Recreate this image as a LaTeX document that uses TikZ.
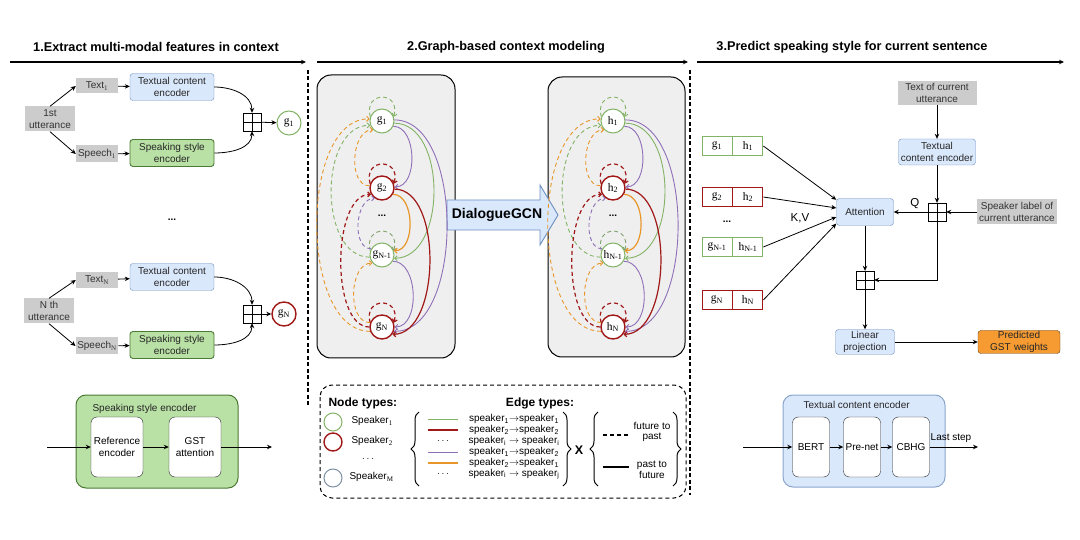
\documentclass[tikz,border=0pt]{standalone}
\usepackage{fontspec}
\setmainfont{Liberation Sans}
\newfontfamily\serf{Liberation Serif}
\usetikzlibrary{arrows.meta,positioning,decorations.pathreplacing,calc}
\definecolor{DGfillb}{HTML}{DAE8FC}
\definecolor{DGlineb}{HTML}{6C8EBF}
\definecolor{DGfillg}{HTML}{B9E0A5}
\definecolor{DGlineg}{HTML}{4A7A33}
\definecolor{DGgray}{HTML}{CCCCCC}
\definecolor{DGpanel}{HTML}{EFEFEF}
\definecolor{DGorange}{HTML}{F59B32}
\definecolor{SPgreen}{HTML}{82B366}
\definecolor{SPred}{HTML}{A01818}
\definecolor{SPpurple}{HTML}{8F6FB8}
\definecolor{SPorange}{HTML}{E8962A}
\definecolor{SPslate}{HTML}{7D8FA3}
\newcommand{\nlab}[2]{{\serf #1\textsubscript{#2}}}
\tikzset{
  every node/.style={font=\fontsize{10}{11.5}\selectfont},
  head/.style={font=\fontsize{12.7}{14}\selectfont\bfseries},
  gbox/.style={fill=DGgray,text=black!80,align=center,inner sep=1.5pt},
  tenc/.style={rounded corners=3pt,draw=DGlineb,fill=DGfillb,text=black!85,align=center,
               text width=82pt,minimum height=27pt,inner sep=1pt},
  senc/.style={tenc,draw=DGlineg,fill=DGfillg,line width=0.9pt},
  subblk/.style={rounded corners=6pt,draw=black!85,fill=white,align=center,
                 minimum width=52pt,minimum height=60pt,inner sep=1pt},
  plusbox/.style={draw,fill=white,minimum size=18pt,inner sep=0pt,
    path picture={\draw (path picture bounding box.north) -- (path picture bounding box.south)
                        (path picture bounding box.west) -- (path picture bounding box.east);}},
  spone/.style={circle,draw=SPgreen,fill=white,line width=1pt,minimum size=24pt,inner sep=0pt,
                font=\fontsize{11.5}{12}\selectfont},
  sptwo/.style={spone,draw=SPred,line width=1.4pt},
  keyg/.style={draw=SPgreen,fill=white,line width=0.9pt,minimum width=30pt,minimum height=19pt,inner sep=0pt,
               font=\fontsize{11.5}{12}\selectfont},
  keyr/.style={keyg,draw=SPred},
  fl/.style={-{Stealth[length=5pt,width=4.5pt]},line width=0.8pt},
  ge/.style={-{Straight Barb[length=2.5pt,width=5pt]},line width=0.9pt},
  gd/.style={ge,dash pattern=on 4pt off 3pt},
  sep/.style={line width=1.2pt,dash pattern=on 4pt off 2.5pt},
  panel/.style={rounded corners=14pt,draw=black,fill=DGpanel,line width=1pt},
  bold/.style={font=\fontsize{12}{13}\selectfont\bfseries},
  erow/.style={font=\fontsize{10}{10.5}\selectfont},
  brc/.style={decorate,decoration={brace,amplitude=8pt},line width=1pt}
}
\begin{document}
\begin{tikzpicture}[x=1pt,y=1pt]
\useasboundingbox (0,0) rectangle (1080,-540);

% headings
\node[head] (hd1) at (156,-47) {1.Extract multi-modal features in context};
\node[head] (hd2) at (506,-47) {2.Graph-based context modeling};
\node[head] (hd3) at (852,-47) {3.Predict speaking style for current sentence};
\coordinate (a1s) at (10,-62);  \coordinate (a1e) at (306,-62);
\coordinate (a2s) at (317,-62); \coordinate (a2e) at (688,-62);
\coordinate (a3s) at (697,-62); \coordinate (a3e) at (1064,-62);
\draw[fl,line width=1.2pt] (a1s) -- (a1e);
\draw[fl,line width=1.2pt] (a2s) -- (a2e);
\draw[fl,line width=1.2pt] (a3s) -- (a3e);
\coordinate (sl1) at (308,-70); \coordinate (sl2) at (308,-405);
\coordinate (sr1) at (690,-70); \coordinate (sr2) at (690,-495);
\draw[sep] (sl1) -- (sl2);
\draw[sep] (sr1) -- (sr2);

% 1. features of each utterance
\node[gbox,minimum width=50pt,minimum height=25pt] (utt1) at (50,-119) {1st\\utterance};
\node[gbox,minimum width=42pt,minimum height=15pt] (txt1) at (97,-86) {Text\textsubscript{\serf 1}};
\node[gbox,minimum width=42pt,minimum height=17pt] (sp1) at (97,-154) {Speech\textsubscript{\serf 1}};
\node[tenc] (tce1) at (172,-87) {Textual content\\encoder};
\node[senc] (sse1) at (172,-153) {Speaking style\\encoder};
\node[plusbox] (pl1) at (252,-122) {};
\node[spone] (gc1) at (289,-123) {\nlab{g}{1}};
\draw[fl] (utt1.north) -- (txt1.west);
\draw[fl] (utt1.south) -- (sp1.west);
\draw[fl] (txt1) -- (tce1);
\draw[fl] (sp1) -- (sse1);
\draw[fl] (tce1.east) to[out=0,in=90] (pl1.north);
\draw[fl] (sse1.east) to[out=0,in=-90] (pl1.south);
\draw[fl] (pl1) -- (gc1);

\node[font=\bfseries] (vdots) at (172,-220) {...};

\node[gbox,minimum width=50pt,minimum height=25pt] (uttN) at (49,-311) {N th\\utterance};
\node[gbox,minimum width=42pt,minimum height=16pt] (txtN) at (97,-280) {Text\textsubscript{\serf N}};
\node[gbox,minimum width=42pt,minimum height=17pt] (spN) at (97,-346) {Speech\textsubscript{\serf N}};
\node[tenc] (tceN) at (172,-277) {Textual content\\encoder};
\node[senc] (sseN) at (172,-345) {Speaking style\\encoder};
\node[plusbox] (plN) at (252,-314) {};
\node[sptwo] (gcN) at (284,-314) {\nlab{g}{N}};
\draw[fl] (uttN.north) -- (txtN.west);
\draw[fl] (uttN.south) -- (spN.west);
\draw[fl] (txtN) -- (tceN);
\draw[fl] (spN) -- (sseN);
\draw[fl] (tceN.east) to[out=0,in=90] (plN.north);
\draw[fl] (sseN.east) to[out=0,in=-90] (plN.south);
\draw[fl] (plN) -- (gcN);

% speaking style encoder detail
\draw[rounded corners=10pt,fill=DGfillg,draw=DGlineg,line width=1pt] (76,-395) rectangle (238,-488);
\node[anchor=west,text=black!85] (ssel) at (89,-409) {Speaking style encoder};
\node[subblk] (refenc) at (117,-447) {Reference\\encoder};
\node[subblk] (gstatt) at (195,-447) {GST\\attention};
\coordinate (ssin) at (47,-447);
\coordinate (ssout) at (272,-447);
\draw[fl] (ssin) -- (refenc);
\draw[fl] (refenc) -- (gstatt);
\draw[fl] (gstatt) -- (ssout);

% 2. graphs before and after DialogueGCN
\draw[panel] (317,-75) rectangle (455,-358);
\draw[panel] (548,-77) rectangle (685,-357);
\draw[fill=DGfillb,draw=DGlineb,line width=0.9pt] (447,-200) -- (540,-200) -- (540,-185) -- (558,-215)
  -- (540,-245) -- (540,-230) -- (447,-230) -- cycle;
\node[font=\fontsize{14}{16}\selectfont\bfseries] (gcn) at (497,-215) {DialogueGCN};

\foreach \p/\gx in {g/382,h/613} {
  \node[spone] (\p1) at (\gx,-121) {\nlab{\p}{1}};
  \node[sptwo] (\p2) at (\gx,-188) {\nlab{\p}{2}};
  \node[font=\bfseries] (\p D) at (\gx,-216) {...};
  \node[spone] (\p M) at (\gx,-255) {\nlab{\p}{N-1}};
  \node[sptwo] (\p N) at (\gx,-327) {\nlab{\p}{N}};
  % self loops
  \draw[gd,SPgreen] (\p1.160) .. controls +(-7,26) and +(7,26) .. (\p1.20);
  \draw[gd,SPred,line width=1.2pt] (\p2.160) .. controls +(-7,26) and +(7,26) .. (\p2.20);
  \draw[gd,SPgreen!70!gray] (\p M.160) .. controls +(-7,26) and +(7,26) .. (\p M.20);
  \draw[gd,SPred,line width=1.2pt] (\p N.160) .. controls +(-7,26) and +(7,26) .. (\p N.20);
  % past to future
  \draw[ge,SPpurple] (\p1.-25) to[out=0,in=0] (\p2.5);
  \draw[ge,SPgreen] (\p1.-10) to[out=0,in=0] (\p M.-15);
  \draw[ge,SPpurple] (\p1.5) to[out=0,in=0,looseness=0.85] (\p N.-20);
  \draw[ge,SPorange,line width=1.2pt] (\p2.-30) to[out=0,in=0] (\p M.20);
  \draw[ge,SPred,line width=1.2pt] (\p2.-5) to[out=0,in=0,looseness=0.85] (\p N.-35);
  \draw[ge,SPpurple] (\p M.-30) to[out=0,in=0] (\p N.0);
  % future to past
  \draw[gd,SPorange] (\p N.200) to[out=180,in=180,looseness=0.85] (\p1.170);
  \draw[gd,SPgreen] (\p M.190) to[out=180,in=180] (\p1.200);
  \draw[gd,SPorange] (\p2.170) to[out=180,in=180] (\p1.225);
  \draw[gd,SPred,line width=1.2pt] (\p N.180) to[out=180,in=180,looseness=0.75] (\p2.210);
  \draw[gd,SPpurple] (\p M.150) to[out=180,in=180] (\p2.235);
  \draw[gd,SPorange] (\p N.160) to[out=180,in=180] (\p M.220);
}

% legend
\draw[rounded corners=12pt,line width=1pt,dash pattern=on 4pt off 3pt] (320,-385) rectangle (686,-498);
\node[bold,anchor=west] (ntyp) at (325,-403) {Node types:};
\node[bold] (etyp) at (540,-403) {Edge types:};
\node[spone,minimum size=18pt] (lc1) at (333,-422) {};
\node[sptwo,minimum size=18pt] (lc2) at (333,-442) {};
\node (lcd) at (368,-459) {$\cdots$};
\node[spone,draw=SPslate,minimum size=18pt] (lcm) at (333,-478) {};
\node[anchor=west] (ls1) at (348,-421) {Speaker\textsubscript{\serf 1}};
\node[anchor=west] (ls2) at (348,-441) {Speaker\textsubscript{\serf 2}};
\node[anchor=west] (lsm) at (346,-477) {Speaker\textsubscript{\serf M}};
\draw[brc] (419,-486) -- (419,-412);
\draw[SPgreen,line width=1pt] (428,-419) -- (458,-419);
\draw[SPred,line width=1.6pt] (428,-430) -- (458,-430);
\node (ld1) at (443,-441) {$\cdots$};
\draw[SPpurple,line width=1pt] (428,-452) -- (458,-452);
\draw[SPorange,line width=1.6pt] (428,-463) -- (458,-463);
\node (ld2) at (443,-474) {$\cdots$};
\node[erow] (le1) at (514,-419) {speaker\textsubscript{1}$\rightarrow$speaker\textsubscript{1}};
\node[erow] (le2) at (514,-430) {speaker\textsubscript{2}$\rightarrow$speaker\textsubscript{2}};
\node[erow] (le3) at (514,-441) {speaker\textsubscript{i} $\rightarrow$ speaker\textsubscript{i}};
\node[erow] (le4) at (514,-452) {speaker\textsubscript{1}$\rightarrow$speaker\textsubscript{2}};
\node[erow] (le5) at (514,-463) {speaker\textsubscript{2}$\rightarrow$speaker\textsubscript{1}};
\node[erow] (le6) at (514,-474) {speaker\textsubscript{i} $\rightarrow$ speaker\textsubscript{j}};
\draw[brc] (563,-412) -- (563,-486);
\node[font=\fontsize{12.5}{14}\selectfont\bfseries] (lx) at (579,-450) {X};
\draw[brc] (598,-486) -- (598,-412);
\draw[line width=1.2pt,dash pattern=on 4pt off 3pt] (603,-435) -- (629,-435);
\node[erow,align=center] (lfp) at (652,-432) {future to\\past};
\draw[line width=1.2pt] (603,-467) -- (629,-467);
\node[erow,align=center] (lpf) at (652,-470) {past to\\future};
\draw[brc] (673,-412) -- (673,-486);

% 3. prediction of the current style
\node[keyg] (k1g) at (717,-146) {\nlab{g}{1}};
\node[keyg,right=0pt of k1g] (k1h) {\nlab{h}{1}};
\node[keyr] (k2g) at (717,-197) {\nlab{g}{2}};
\node[keyr,right=0pt of k2g] (k2h) {\nlab{h}{2}};
\node[font=\bfseries] (kdots) at (727,-222) {...};
\node[keyg] (kmg) at (717,-247) {\nlab{g}{N-1}};
\node[keyg,right=0pt of kmg] (kmh) {\nlab{h}{N-1}};
\node[keyr] (kng) at (717,-300) {\nlab{g}{N}};
\node[keyr,right=0pt of kng] (knh) {\nlab{h}{N}};

\node[tenc,text width=55pt] (att) at (865,-212) {Attention};
\node[font=\fontsize{11.5}{13}\selectfont] (kv) at (800,-218) {K,V};
\draw[fl] (k1h.east) -- (att.157);
\draw[fl] (k2h.east) -- (att.172);
\draw[fl] (kmh.east) -- (att.190);
\draw[fl] (knh.east) -- (att.202);

\node[gbox,minimum width=79pt,minimum height=24pt] (tcur) at (937,-93) {Text of current\\utterance};
\node[tenc,text width=75pt,minimum height=26pt] (tce3) at (937,-152) {Textual\\content encoder};
\node[plusbox] (pl3) at (937,-212) {};
\node[gbox,minimum width=80pt,minimum height=25pt] (spkl) at (1017,-212) {Speaker label of\\current utterance};
\node[plusbox] (pl4) at (865,-280) {};
\node[tenc,text width=57pt,minimum height=25pt] (lin) at (865,-342) {Linear\\projection};
\node[tenc,fill=DGorange,draw=black!60!DGorange,text width=80pt,minimum height=23pt] (pred) at (1019,-342) {Predicted\\GST weights};
\draw[fl] (tcur) -- (tce3);
\draw[fl] (tce3) -- (pl3);
\draw[fl] (spkl) -- (pl3);
\draw[fl] (pl3) -- node[above,font=\fontsize{11.5}{13}\selectfont,xshift=4pt] (qlab) {Q} (att);
\draw[fl] (pl3.south) |- (pl4.east);
\draw[fl] (att) -- (pl4);
\draw[fl] (pl4) -- (lin);
\draw[fl] (lin) -- (pred);

% textual content encoder detail
\draw[rounded corners=10pt,fill=DGfillb,draw=DGlineb!80,line width=1pt] (783,-395) rectangle (945,-487);
\node[anchor=west,text=black!85] (tcel) at (800,-405) {Textual content encoder};
\node[subblk,minimum width=37pt] (bert) at (811,-447) {BERT};
\node[subblk,minimum width=37pt] (prenet) at (862,-447) {Pre-net};
\node[subblk,minimum width=37pt] (cbhg) at (911,-447) {CBHG};
\coordinate (tcin) at (743,-447);
\coordinate (tcout) at (978,-447);
\draw[fl] (tcin) -- (bert);
\draw[fl] (bert) -- (prenet);
\draw[fl] (prenet) -- (cbhg);
\draw[fl] (cbhg) -- (tcout);
\node (lstep) at (951,-438) {Last step};
\end{tikzpicture}
\end{document}
